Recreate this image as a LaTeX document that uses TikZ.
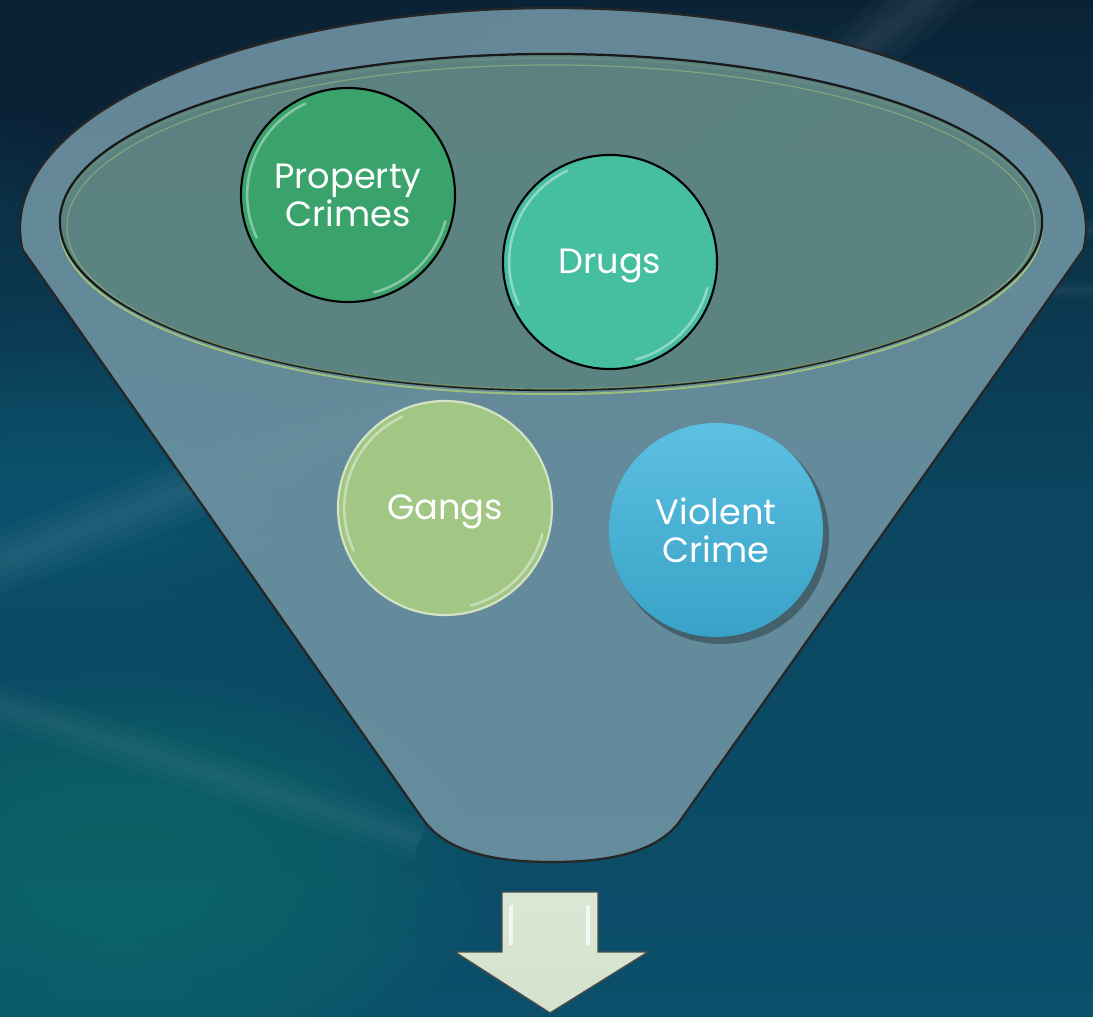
\documentclass[tikz,border=0pt]{standalone}
\usepackage{fontspec}
\setmainfont{Poppins}
\usetikzlibrary{calc}
\definecolor{bgtop}{HTML}{0A2236}
\definecolor{bgmid}{HTML}{0B4660}
\definecolor{bgbot}{HTML}{0B4F6A}
\definecolor{glowteal}{HTML}{159080}
\definecolor{glowblue}{HTML}{1A6E8A}
\definecolor{funfill}{HTML}{6E93A2}
\definecolor{innerfill}{HTML}{5A827E}
\definecolor{rimgreen}{HTML}{9CC07C}
\definecolor{propfill}{HTML}{3AA36C}
\definecolor{drugfill}{HTML}{46BFA1}
\definecolor{gangfill}{HTML}{A2C785}
\definecolor{gangedge}{HTML}{D5E4C6}
\definecolor{viotop}{HTML}{5CC0E2}
\definecolor{viobot}{HTML}{38A2C6}
\definecolor{arrowfill}{HTML}{D4E3CD}
\begin{document}
\begin{tikzpicture}[x=0.025cm,y=-0.025cm,
  bubble/.style={circle, minimum size=5.35cm, inner sep=0pt, text=white,
    font=\fontsize{25}{27}\selectfont, align=center},
  gloss/.style={white, line width=1.8pt, opacity=0.4, line cap=round},
  streak/.style={white, opacity=0.025},
]
\useasboundingbox (0,0) rectangle (1093,1017);
% ---------- background ----------
\fill[top color=bgtop, bottom color=bgbot, middle color=bgmid] (0,0) rectangle (1093,1017);
\begin{scope}
\clip (0,0) rectangle (1093,1017);
\foreach \r in {9,8.5,...,2.5}
  \fill[glowteal, opacity=0.035] (120,880) ellipse [x radius=\r cm, y radius=0.6*\r cm];
\foreach \r in {8,7.5,...,2.5}
  \fill[glowblue, opacity=0.03] (60,480) ellipse [x radius=\r cm, y radius=0.5*\r cm];
\foreach \r in {9,8.5,...,4}
  \fill[bgtop, opacity=0.03] (150,40) ellipse [x radius=\r cm, y radius=0.5*\r cm];
\foreach \w in {44,32,20,10}
  \draw[streak, line width=\w pt] (-100,600) -- (420,400) -- (1000,-60);
\foreach \w in {30,18,8}
  \draw[streak, line width=\w pt] (-50,690) -- (420,840);
\foreach \w in {14,8,3}
  \draw[streak, line width=\w pt] (980,230) -- (1150,230);
\foreach \w in {12,6,2}
  \draw[streak, line width=\w pt] (1000,290) -- (1150,290);
\end{scope}
% ---------- funnel ----------
\draw[fill=funfill, fill opacity=0.9, draw=black!85, line width=1.6pt, line join=round]
  plot[domain=185.7:-5.7, samples=120, smooth] ({553+533*cos(\x)},{228-220*sin(\x)})
  -- (682,818) .. controls (660,852) and (610,862) .. (552,862)
  .. controls (494,862) and (445,852) .. (422,818) -- cycle;
\coordinate (ic) at (551,222);
\draw[rimgreen, line width=1.4pt] ($(ic)+(0,4)$) ellipse [x radius=12.275cm, y radius=4.2cm];
\draw[fill=innerfill, fill opacity=0.85, draw=black!90, line width=1.6pt]
  (ic) ellipse [x radius=12.275cm, y radius=4.2cm];
\draw[rimgreen, line width=0.8pt, opacity=0.6] ($(ic)+(0,5)$) ellipse [x radius=12.1cm, y radius=4.05cm];
% ---------- bubbles ----------
\node[bubble, fill=propfill, draw=black, line width=1.5pt] (pc) at (348,195) {Property\\Crimes};
\node[bubble, fill=drugfill, draw=black, line width=1.5pt] (dr) at (610,262) {};
\node[text=white, font=\fontsize{25}{27}\selectfont] (drt) at (610,266) {Drugs};
\node[bubble, fill=gangfill, draw=gangedge, line width=1.5pt] (ga) at (445,508) {};
\node[text=white, font=\fontsize{25}{27}\selectfont] (gat) at (445,512) {Gangs};
\fill[black, opacity=0.3] (721,536) circle [radius=2.7cm];
\node[bubble, top color=viotop, bottom color=viobot] (vc) at (716,530) {Violent\\Crime};
\foreach \n in {pc,dr,ga}{
  \draw[gloss] ($(\n)+(115:2.52cm)$) arc[start angle=115, end angle=205, radius=2.52cm];
  \draw[gloss] ($(\n)+(-15:2.52cm)$) arc[start angle=-15, end angle=-75, radius=2.52cm];
}
% ---------- arrow ----------
\draw[top color=arrowfill!85!white, bottom color=arrowfill, draw=black!70, line width=1pt, line join=miter]
  (502,892) coordinate (a1) -- (598,892) -- (598,952) -- (648,952) -- (550,1013) coordinate (tip)
  -- (455,952) -- (502,952) -- cycle;
\draw[white, line width=2.5pt, opacity=0.7] (511,905) -- (511,945);
\draw[white, line width=2.5pt, opacity=0.7] (588,905) -- (588,945);
\end{tikzpicture}
\end{document}
